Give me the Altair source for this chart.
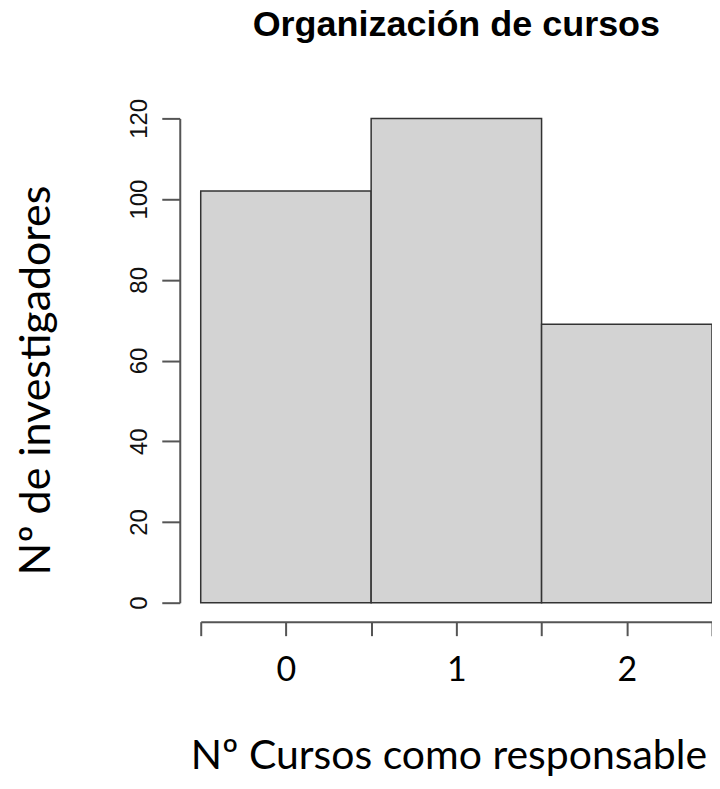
import altair as alt
import pandas as pd

# data
bins = [0, 1, 2]
counts = [102, 120, 69]
y_ticks = [0, 20, 40, 60, 80, 100, 120]
x_ticks = [-0.5, 0, 0.5, 1, 1.5, 2, 2.5]

df = pd.DataFrame({
    "start": [b - 0.5 for b in bins],
    "end": [b + 0.5 for b in bins],
    "count": counts,
})

bars = alt.Chart(df).mark_rect(
    fill="#d3d3d3", stroke="#333333", strokeWidth=1.5
).encode(
    x=alt.X("start:Q",
            scale=alt.Scale(domain=[-0.5, 2.5], nice=False, zero=False),
            axis=alt.Axis(
                values=x_ticks,
                labelExpr="datum.value % 1 == 0 ? format(datum.value, 'd') : ''",
                title="Nº Cursos como responsable",
                titleFont="Lato", titleFontSize=41, titleFontWeight="normal",
                titleColor="#000000",
                titleX=248, titleY=147, titleBaseline="alphabetic", titleAlign="center",
                labelFont="Lato", labelFontSize=34, labelColor="#000000",
                labelPadding=18, labelFlush=False,
                tickSize=14, tickWidth=2, tickColor="#555555",
                domainColor="#555555", domainWidth=2,
                offset=19, grid=False,
            )),
    x2="end:Q",
    y=alt.Y("count:Q",
            scale=alt.Scale(domain=[0, 120], nice=False),
            axis=alt.Axis(
                values=y_ticks,
                title="Nº de investigadores",
                titleFont="Lato", titleFontSize=43, titleFontWeight="normal",
                titleColor="#000000", titleAngle=-90,
                titleX=-143, titleY=262, titleBaseline="middle", titleAlign="center",
                labelFont="Liberation Sans", labelFontSize=24, labelColor="#111111",
                labelAngle=-90, labelAlign="center", labelBaseline="bottom",
                labelPadding=10, labelFlush=False,
                tickSize=18, tickWidth=2, tickColor="#555555",
                domainColor="#555555", domainWidth=2,
                offset=21, grid=False,
            )),
    y2=alt.datum(0),
)

chart = bars.properties(
    width=512, height=485,
    background="#ffffff",
    title=alt.TitleParams(
        "Organización de cursos", font="Liberation Sans", fontSize=36,
        fontWeight="bold", color="#000000", anchor="middle", offset=54,
    ),
    autosize=alt.AutoSizeParams(type="none"),
    padding={"left": 193, "top": 110, "right": 0, "bottom": 175},
).configure_view(strokeWidth=0, stroke=None)

chart.save("out.html", embed_options={"renderer": "svg", "actions": False})
